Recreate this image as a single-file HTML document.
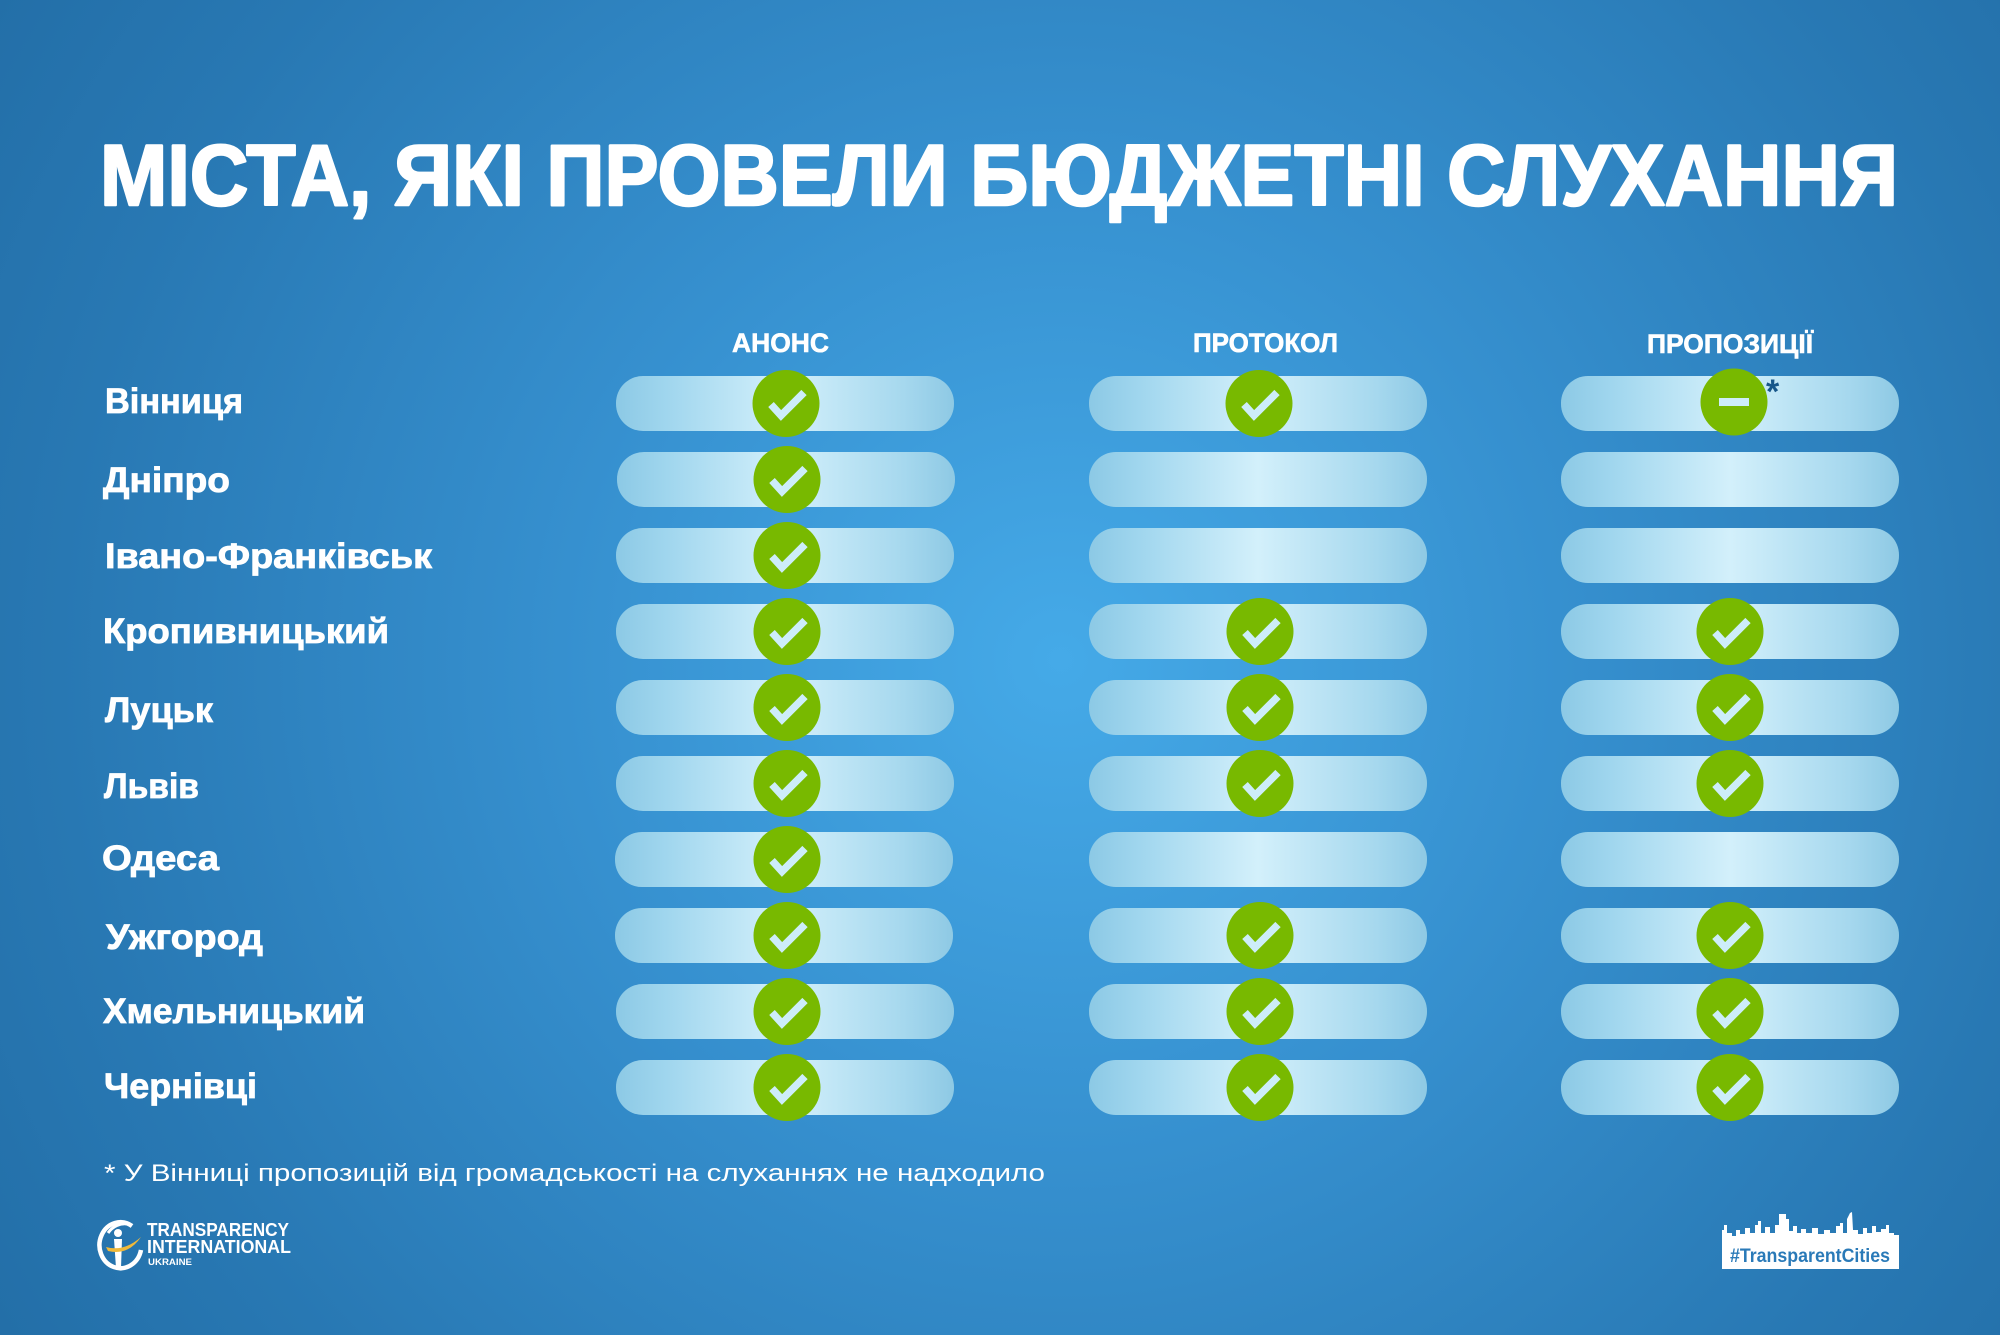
<!DOCTYPE html>
<html><head><meta charset="utf-8"><style>
html,body{margin:0;padding:0;background:#2a7bb6;}
svg{display:block;}
text{font-family:"Liberation Sans","DejaVu Sans",sans-serif;}
</style></head><body>
<svg width="2000" height="1335" viewBox="0 0 2000 1335" xmlns="http://www.w3.org/2000/svg">
<defs>
<radialGradient id="bg" gradientUnits="userSpaceOnUse" cx="1060" cy="660" r="1250">
<stop offset="0" stop-color="#45aae8"/>
<stop offset="0.4" stop-color="#3690cf"/>
<stop offset="0.8" stop-color="#2878b3"/>
<stop offset="1" stop-color="#236fa8"/>
</radialGradient>
<linearGradient id="bar" x1="0" y1="0" x2="1" y2="0">
<stop offset="0" stop-color="#8cc9e5"/>
<stop offset="0.15" stop-color="#a0d6ee"/>
<stop offset="0.5" stop-color="#d3f0fb"/>
<stop offset="0.85" stop-color="#a6d8ee"/>
<stop offset="1" stop-color="#8ec9e4"/>
</linearGradient>
<g id="ck"><circle r="33.5" fill="#78b900"/><polyline points="-15,1 -5,12 18,-11" fill="none" stroke="#cdedf9" stroke-width="7.5"/></g>
</defs>
<rect width="2000" height="1335" fill="url(#bg)"/>

<text x="100" y="205" font-size="86" font-weight="bold" fill="#ffffff" stroke="#ffffff" stroke-width="2.5" stroke-linejoin="round" textLength="1798" lengthAdjust="spacingAndGlyphs">МІСТА, ЯКІ ПРОВЕЛИ БЮДЖЕТНІ СЛУХАННЯ</text>

<g font-weight="bold" fill="#ffffff" stroke="#ffffff" stroke-width="0.6" font-size="26.5">
<text x="732" y="352" textLength="97" lengthAdjust="spacingAndGlyphs">АНОНС</text>
<text x="1193" y="352" textLength="145" lengthAdjust="spacingAndGlyphs">ПРОТОКОЛ</text>
<text x="1647" y="353" textLength="166" lengthAdjust="spacingAndGlyphs">ПРОПОЗИЦІЇ</text>
</g>

<g font-weight="bold" fill="#ffffff" stroke="#ffffff" stroke-width="0.8" font-size="35">
<text x="105" y="413" textLength="138" lengthAdjust="spacingAndGlyphs">Вінниця</text>
<text x="103" y="492" textLength="127" lengthAdjust="spacingAndGlyphs">Дніпро</text>
<text x="105" y="568" textLength="327" lengthAdjust="spacingAndGlyphs">Івано-Франківськ</text>
<text x="103" y="643" textLength="286" lengthAdjust="spacingAndGlyphs">Кропивницький</text>
<text x="105" y="722" textLength="108" lengthAdjust="spacingAndGlyphs">Луцьк</text>
<text x="104" y="798" textLength="95" lengthAdjust="spacingAndGlyphs">Львів</text>
<text x="102" y="870" textLength="117" lengthAdjust="spacingAndGlyphs">Одеса</text>
<text x="106" y="949" textLength="157" lengthAdjust="spacingAndGlyphs">Ужгород</text>
<text x="103" y="1023" textLength="262" lengthAdjust="spacingAndGlyphs">Хмельницький</text>
<text x="104" y="1098" textLength="153" lengthAdjust="spacingAndGlyphs">Чернівці</text>
</g>

<!-- bars -->
<g fill="url(#bar)">
<rect x="616" y="376" width="338" height="55" rx="27"/>
<rect x="1089" y="376" width="338" height="55" rx="27"/>
<rect x="1561" y="376" width="338" height="55" rx="27"/>
<rect x="617" y="452" width="338" height="55" rx="27"/>
<rect x="1089" y="452" width="338" height="55" rx="27"/>
<rect x="1561" y="452" width="338" height="55" rx="27"/>
<rect x="616" y="528" width="338" height="55" rx="27"/>
<rect x="1089" y="528" width="338" height="55" rx="27"/>
<rect x="1561" y="528" width="338" height="55" rx="27"/>
<rect x="616" y="604" width="338" height="55" rx="27"/>
<rect x="1089" y="604" width="338" height="55" rx="27"/>
<rect x="1561" y="604" width="338" height="55" rx="27"/>
<rect x="616" y="680" width="338" height="55" rx="27"/>
<rect x="1089" y="680" width="338" height="55" rx="27"/>
<rect x="1561" y="680" width="338" height="55" rx="27"/>
<rect x="616" y="756" width="338" height="55" rx="27"/>
<rect x="1089" y="756" width="338" height="55" rx="27"/>
<rect x="1561" y="756" width="338" height="55" rx="27"/>
<rect x="615" y="832" width="338" height="55" rx="27"/>
<rect x="1089" y="832" width="338" height="55" rx="27"/>
<rect x="1561" y="832" width="338" height="55" rx="27"/>
<rect x="615" y="908" width="338" height="55" rx="27"/>
<rect x="1089" y="908" width="338" height="55" rx="27"/>
<rect x="1561" y="908" width="338" height="55" rx="27"/>
<rect x="616" y="984" width="338" height="55" rx="27"/>
<rect x="1089" y="984" width="338" height="55" rx="27"/>
<rect x="1561" y="984" width="338" height="55" rx="27"/>
<rect x="616" y="1060" width="338" height="55" rx="27"/>
<rect x="1089" y="1060" width="338" height="55" rx="27"/>
<rect x="1561" y="1060" width="338" height="55" rx="27"/>
</g>

<!-- marks -->
<use href="#ck" x="786" y="403.5"/>
<use href="#ck" x="1259" y="403.5"/>
<g transform="translate(1734,402)"><circle r="33.5" fill="#78b900"/><rect x="-15" y="-4" width="30" height="8" fill="#cdedf9"/></g>
<text x="1766" y="403" font-size="34" font-weight="bold" fill="#17578a">*</text>

<use href="#ck" x="787" y="479.5"/>
<use href="#ck" x="787" y="555.5"/>

<use href="#ck" x="787" y="631.5"/>
<use href="#ck" x="1260" y="631.5"/>
<use href="#ck" x="1730" y="631.5"/>

<use href="#ck" x="787" y="707.5"/>
<use href="#ck" x="1260" y="707.5"/>
<use href="#ck" x="1730" y="707.5"/>

<use href="#ck" x="787" y="783.5"/>
<use href="#ck" x="1260" y="783.5"/>
<use href="#ck" x="1730" y="783.5"/>

<use href="#ck" x="787" y="859.5"/>

<use href="#ck" x="787" y="935.5"/>
<use href="#ck" x="1260" y="935.5"/>
<use href="#ck" x="1730" y="935.5"/>

<use href="#ck" x="787" y="1011.5"/>
<use href="#ck" x="1260" y="1011.5"/>
<use href="#ck" x="1730" y="1011.5"/>

<use href="#ck" x="787" y="1087.5"/>
<use href="#ck" x="1260" y="1087.5"/>
<use href="#ck" x="1730" y="1087.5"/>

<!-- footnote -->
<text x="104" y="1181" font-size="24" fill="#ffffff" textLength="941" lengthAdjust="spacingAndGlyphs">* У Вінниці пропозицій від громадськості на слуханнях не надходило</text>

<!-- TI logo -->
<g>
<path d="M132,1226 A21,23 0 1 0 141,1250" fill="none" stroke="#ffffff" stroke-width="4.5"/>
<path d="M108,1233 A21,23 0 0 1 128,1224" fill="none" stroke="#ffffff" stroke-width="3"/>
<circle cx="118" cy="1233" r="4" fill="#ffffff"/>
<path d="M114,1239 L122,1239 L121,1268 L116,1268 Z" fill="#ffffff"/>
<path d="M106,1247 Q124,1252 141,1237 Q128,1256 108,1251 Z" fill="#f0b93a"/>
<g font-weight="bold" fill="#ffffff">
<text x="147" y="1236" font-size="18" textLength="142" lengthAdjust="spacingAndGlyphs">TRANSPARENCY</text>
<text x="147" y="1253" font-size="18" textLength="144" lengthAdjust="spacingAndGlyphs">INTERNATIONAL</text>
<text x="148" y="1265" font-size="9.5" textLength="44" lengthAdjust="spacingAndGlyphs">UKRAINE</text>
</g>
</g>

<!-- TransparentCities logo -->
<path fill="#ffffff" d="M1722,1269 L1722,1230 L1724,1230 L1724,1225 L1727,1225 L1727,1233 L1732,1233 L1732,1236 L1736,1236 L1736,1230 L1740,1230 L1740,1234 L1745,1234 L1745,1228 L1750,1228 L1750,1233 L1755,1233 L1755,1225 L1758,1225 L1758,1221 L1761,1221 L1761,1233 L1765,1233 L1765,1227 L1770,1227 L1770,1233 L1775,1233 L1775,1225 L1779,1225 L1779,1214 L1786,1214 L1786,1219 L1789,1219 L1789,1231 L1793,1231 L1793,1226 L1797,1226 L1797,1233 L1801,1233 L1801,1229 L1806,1229 L1806,1233 L1812,1233 L1812,1228 L1818,1228 L1818,1234 L1824,1234 L1824,1230 L1830,1230 L1830,1233 L1836,1233 L1836,1226 L1840,1226 L1840,1223 L1843,1223 L1843,1233 L1847,1233 L1847,1219 L1850,1213 L1852,1212 L1853,1230 L1858,1230 L1858,1234 L1863,1234 L1863,1228 L1867,1228 L1867,1233 L1872,1233 L1872,1226 L1876,1226 L1876,1232 L1881,1232 L1881,1229 L1886,1229 L1886,1225 L1889,1225 L1889,1233 L1894,1233 L1894,1235 L1899,1235 L1899,1269 Z"/>
<text x="1730" y="1262" font-size="19" font-weight="bold" fill="#2a7ab8" textLength="160" lengthAdjust="spacingAndGlyphs">#TransparentCities</text>
</svg>
</body></html>
